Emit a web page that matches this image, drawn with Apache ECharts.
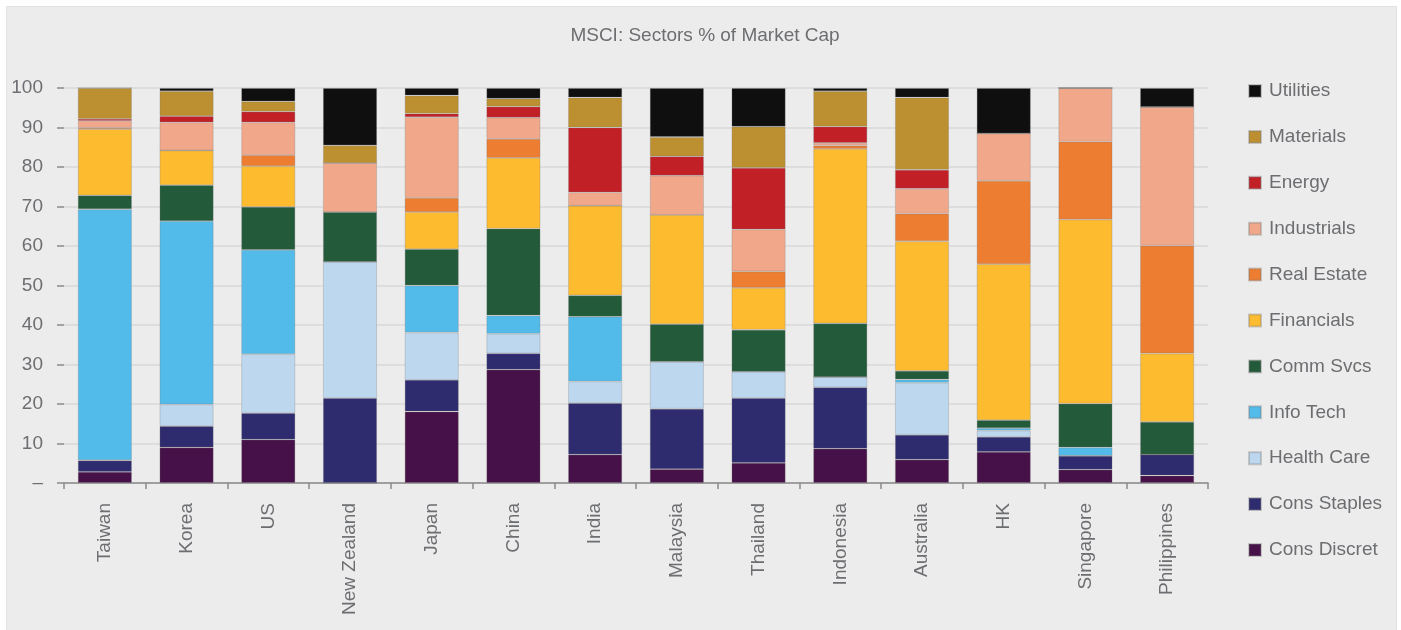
<!DOCTYPE html>
<html>
<head>
<meta charset="utf-8">
<script src="https://cdn.jsdelivr.net/npm/echarts@6/dist/echarts.min.js"></script>
<style>
html,body{margin:0;padding:0;background:#ffffff;}
#box{position:absolute;left:6px;top:6px;width:1391px;height:624px;background:#ececec;border-left:1px solid #e2e2e2;border-right:1px solid #e2e2e2;border-top:1px solid #e2e2e2;box-sizing:border-box;}
#main{position:absolute;left:0;top:0;width:1401px;height:630px;}
</style>
</head>
<body>
<div id="box"></div>
<div id="main"></div>
<script>
const countries = ["Taiwan","Korea","US","New Zealand","Japan","China","India","Malaysia","Thailand","Indonesia","Australia","HK","Singapore","Philippines"];
const yTicks = [0,10,20,30,40,50,60,70,80,90,100];

// values per sector, in country order above (stack order bottom -> top)
const consDiscret = [2.8, 9.0, 11.0, 0, 18.1, 28.7, 7.2, 3.5, 5.1, 8.7, 5.9, 7.9, 3.4, 1.9];
const consStaples = [2.9, 5.4, 6.7, 21.5, 8.0, 4.1, 13.0, 15.3, 16.4, 15.5, 6.3, 3.8, 3.5, 5.3];
const healthCare  = [0.1, 5.5, 14.9, 34.5, 12.0, 5.0, 5.5, 11.9, 6.7, 2.6, 13.2, 1.6, 0, 0];
const infoTech    = [63.5, 46.4, 26.4, 0, 11.9, 4.6, 16.4, 0, 0, 0, 0.8, 0.6, 2.1, 0];
const commSvcs    = [3.5, 9.1, 10.9, 12.6, 9.2, 22.0, 5.4, 9.5, 10.6, 13.6, 2.2, 2.0, 11.1, 8.3];
const financials  = [16.8, 8.8, 10.3, 0, 9.4, 17.9, 22.7, 27.7, 10.6, 44.2, 32.8, 39.5, 46.6, 17.3];
const realEstate  = [0.3, 0, 2.8, 0, 3.6, 4.8, 0, 0, 4.2, 0.8, 7.0, 21.1, 19.7, 27.3];
const industrials = [1.8, 7.1, 8.3, 12.4, 20.4, 5.4, 3.4, 9.9, 10.6, 0.7, 6.3, 12.0, 13.6, 35.1];
const energy      = [0.5, 1.6, 2.7, 0, 0.9, 2.8, 16.4, 4.9, 15.6, 4.1, 4.8, 0, 0, 0];
const materials   = [7.8, 6.3, 2.6, 4.5, 4.6, 2.0, 7.6, 4.9, 10.4, 9.0, 18.3, 0, 0, 0];
const utilities   = [0, 0.8, 3.4, 14.5, 1.9, 2.7, 2.4, 12.4, 9.8, 0.8, 2.4, 11.5, 0, 4.8];

const sectorNames = ["Cons Discret","Cons Staples","Health Care","Info Tech","Comm Svcs","Financials","Real Estate","Industrials","Energy","Materials","Utilities"];
const sectorData = [consDiscret, consStaples, healthCare, infoTech, commSvcs, financials, realEstate, industrials, energy, materials, utilities];
const sectorColors = ["#461148","#2e2b6f","#bdd7ee","#53bbea","#235b3a","#fdbb30","#ec7d31","#f1a88a","#c12026","#bc9030","#0f0f0f"];

const chart = echarts.init(document.getElementById('main'), null, {renderer:'canvas'});
const grey = '#6d6e71';
const font = 'Liberation Sans';
chart.setOption({
  backgroundColor: 'transparent',
  animation: false,
  title: {
    text: 'MSCI: Sectors % of Market Cap',
    left: 700, top: 21, textAlign: 'center',
    textStyle: {fontFamily: font, fontSize: 19, fontWeight: 'normal', color: grey}
  },
  legend: {
    data: sectorNames.slice().reverse(),
    orient: 'vertical',
    left: 1243, top: 76,
    itemWidth: 12, itemHeight: 12, itemGap: 25.9,
    icon: 'rect',
    textStyle: {fontFamily: font, fontSize: 19, color: grey, lineHeight: 20, padding: [0,0,0,3]}
  },
  grid: {left: 64, right: 193, top: 88, bottom: 147, containLabel: false, outerBoundsMode: 'none'},
  xAxis: {
    type: 'category',
    data: countries,
    axisLine: {show: true, lineStyle: {color: '#8a8a8a', width: 1.5}},
    axisTick: {show: true, length: 6, lineStyle: {color: '#8a8a8a', width: 1.5}},
    axisLabel: {rotate: 90, margin: 20, fontFamily: font, fontSize: 19, color: grey, interval: 0}
  },
  yAxis: {
    type: 'value', min: 0, max: 100, interval: 10,
    axisLine: {show: false},
    axisTick: {show: true, length: 7, lineStyle: {color: '#8a8a8a', width: 1.5}},
    splitLine: {show: true, lineStyle: {color: '#d8d8d8', width: 1.5}},
    axisLabel: {margin: 21, fontFamily: font, fontSize: 19, color: grey,
      formatter: function(v){ return v === 0 ? '\u2013' : String(v); }}
  },
  series: sectorNames.map(function(name, i){
    return {
      name: name, type: 'bar', stack: 'total', barWidth: 54,
      data: sectorData[i],
      itemStyle: {color: sectorColors[i], borderColor: 'rgba(120,120,120,0.35)', borderWidth: 0.8}
    };
  })
});
</script>
</body>
</html>
